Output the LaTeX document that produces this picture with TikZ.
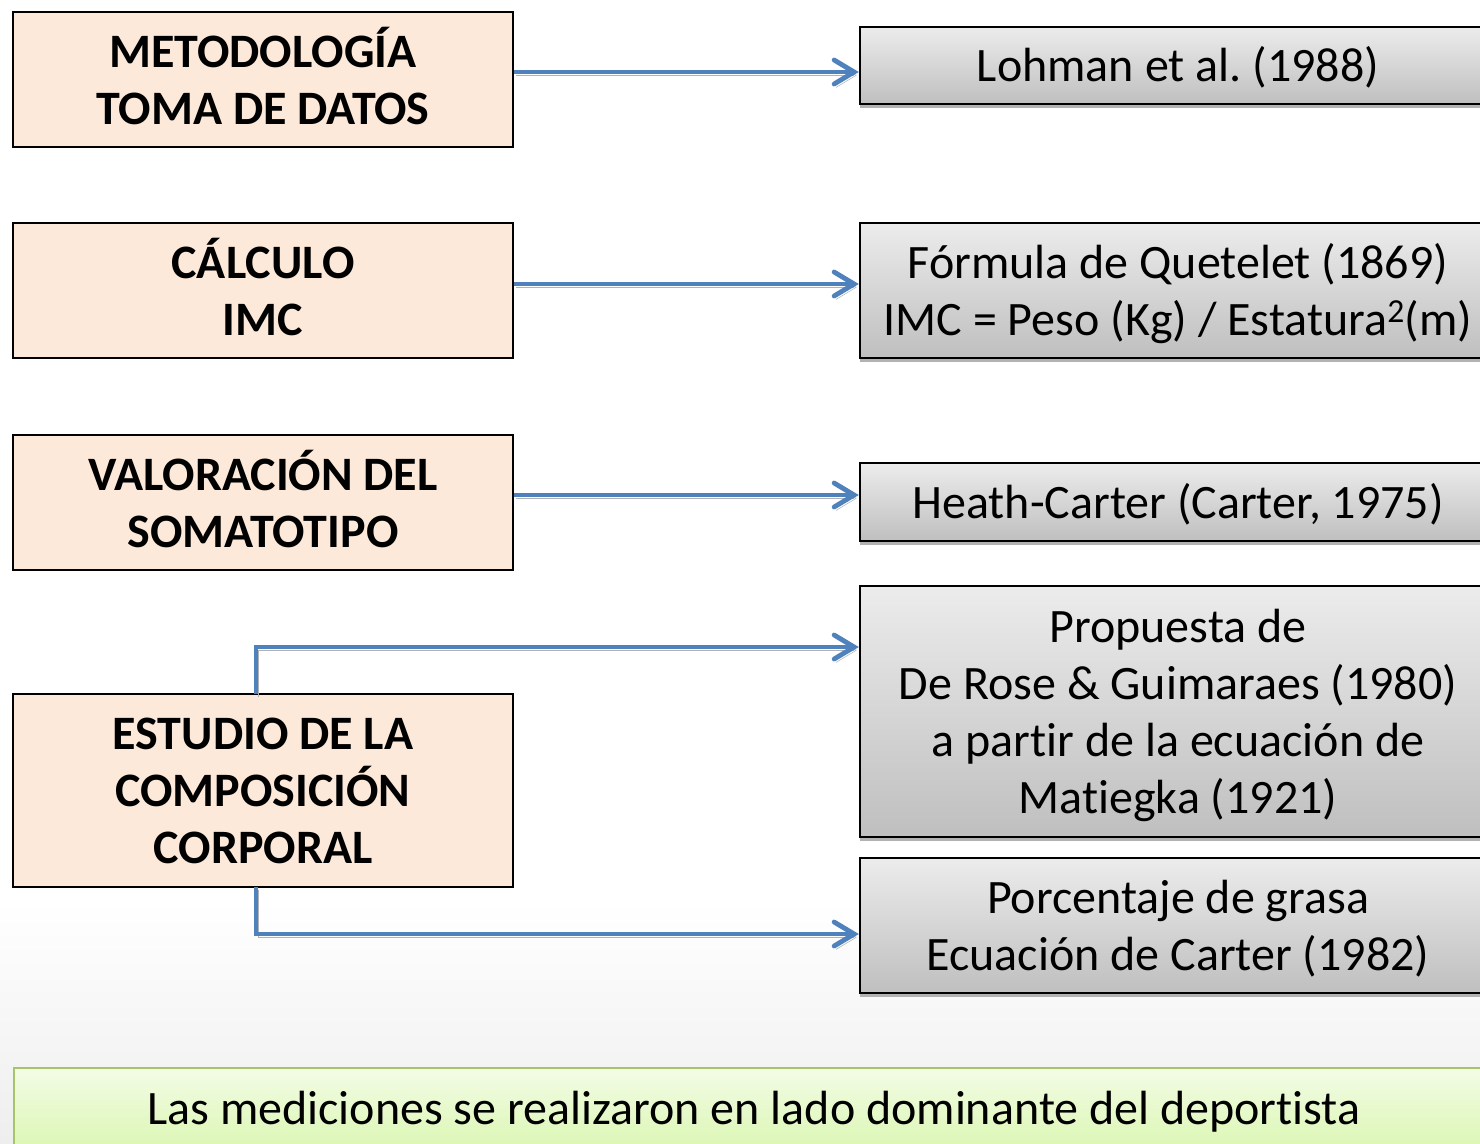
\documentclass[tikz,border=0pt]{standalone}
\usepackage{fontspec}
\setmainfont{Carlito}[Ligatures=NoCommon]
\usetikzlibrary{arrows.meta,shadows}
\definecolor{peach}{HTML}{FDE9D9}
\definecolor{arrblue}{HTML}{4F81BD}
\definecolor{grtop}{HTML}{ECECEC}
\definecolor{grbot}{HTML}{BFBFBF}
\definecolor{gntop}{HTML}{F3FCE6}
\definecolor{gnbot}{HTML}{D6F5A8}
\definecolor{gnedge}{HTML}{A6C46A}
\definecolor{bgbot}{HTML}{EEEEEE}
\frenchspacing
\tikzset{
  txt/.style={font=\fontsize{36pt}{42.75pt}\selectfont, align=center, inner sep=0pt},
  lines/.style={text height={24pt+(#1-1)*42.75pt}, text depth=0pt},
  lbox/.style={txt, font=\fontsize{36pt}{42.75pt}\selectfont\bfseries, draw=black, line width=1.5pt, fill=peach, minimum width=375pt},
  rbox/.style={txt, draw=black, line width=1.8pt, top color=grtop, bottom color=grbot, minimum width=477pt,
    drop shadow={shadow xshift=0pt, shadow yshift=-3pt, fill=black!30, opacity=1}},
  arr/.style={draw=arrblue, line width=3.6pt, -{Straight Barb[length=15pt,width=18pt,line cap=round]},
    preaction={draw=black!30, transform canvas={shift={(1.5pt,-2.5pt)}}}}
}
\begin{document}
\begin{tikzpicture}[x=0.75pt,y=-0.75pt]
\useasboundingbox (0,0) rectangle (1480,1143);
\clip (0,0) rectangle (1480,1143);
\shade[top color=white, bottom color=bgbot] (0,900) rectangle (1480,1143);
\fill[white] (0,0) rectangle (1480,900);

% left boxes
\node[lbox, lines=2, minimum height=101.25pt] (L1) at (263,79.5) {METODOLOGÍA\\TOMA DE DATOS};
\node[lbox, lines=2, minimum height=101.25pt] (L2) at (263,290.5) {CÁLCULO\\IMC};
\node[lbox, lines=2, minimum height=101.25pt] (L3) at (263,502.5) {VALORACIÓN DEL\\SOMATOTIPO};
\node[lbox, lines=3, minimum height=144.75pt] (L4) at (263,790.5) {ESTUDIO DE LA\\COMPOSICIÓN\\CORPORAL};

% right boxes
\node[rbox, lines=1, minimum height=57.75pt] (A) at (1178,65.5) {Lohman et al.\ (1988)};
\node[rbox, lines=2, minimum height=101.25pt] (B) at (1178,290.5) {Fórmula de Quetelet (1869)\\IMC = Peso (Kg) / Estatura\textsuperscript{2}(m)};
\node[rbox, lines=1, minimum height=58.5pt] (C) at (1178,502) {Heath-Carter (Carter, 1975)};
\node[rbox, lines=4, minimum height=188.25pt] (D) at (1178,711.5) {Propuesta de\\De Rose \& Guimaraes (1980)\\a partir de la ecuación de\\Matiegka (1921)};
\node[rbox, lines=2, minimum height=101.25pt] (E) at (1178,925.5) {Porcentaje de grasa\\Ecuación de Carter (1982)};

% bottom note
\node[txt, draw=gnedge, line width=1.2pt, top color=gntop, bottom color=gnbot, minimum width=1112pt, minimum height=75pt, anchor=north west] (N) at (13,1067) {};
\node[txt, lines=1] (NT) at (754,1108) {Las mediciones se realizaron en lado dominante del deportista};

% connectors
\draw[arr] (L1.east |- 0,72) -- (A.west |- 0,72);
\draw[arr] (L2.east |- 0,284) -- (B.west |- 0,284);
\draw[arr] (L3.east |- 0,495) -- (C.west |- 0,495);
\coordinate (up) at (256,694);
\coordinate (dn) at (256,887);
\draw[arr] (up) |- (D.west |- 0,647);
\draw[arr] (dn) |- (E.west |- 0,934);
\end{tikzpicture}
\end{document}
